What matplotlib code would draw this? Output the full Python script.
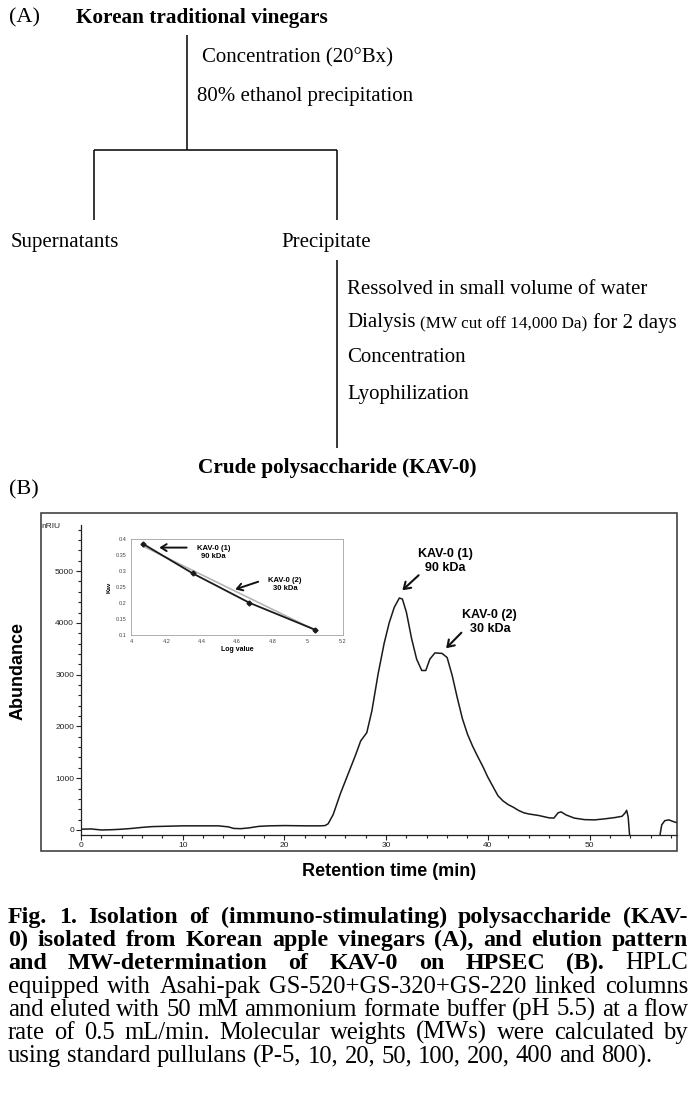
import matplotlib
matplotlib.use('Agg')
import matplotlib.pyplot as plt
from matplotlib.patches import Rectangle
from matplotlib.ticker import MultipleLocator

W, H = 698, 1103

# HPSEC elution profile of KAV-0 (retention time in min, RI signal in nRIU)
rt_main = [0.0, 1.0, 2.0, 3.0, 4.0, 5.0, 6.0, 7.0, 8.0, 10.0, 12.0, 13.5, 14.5, 15.0,
           15.7, 16.5, 17.5, 18.5, 20.0, 22.0, 23.5, 24.0, 24.3, 24.8, 25.5, 26.2,
           27.0, 27.5, 28.1, 28.6, 29.2, 29.8, 30.3, 30.8, 31.3, 31.6, 32.0, 32.5,
           33.0, 33.5, 33.9, 34.3, 34.8, 35.5, 36.0, 36.5, 37.0, 37.5, 38.0, 38.5,
           39.0, 39.5, 40.0, 40.5, 41.0, 41.5, 42.0, 42.5, 43.0, 43.5, 44.0, 45.0,
           46.0, 46.5, 46.9, 47.2, 47.7, 48.5, 49.5, 50.5, 51.5, 52.5, 53.2, 53.5,
           53.65, 53.8, 53.95]
riu_main = [15, 20, 0, 5, 15, 30, 50, 65, 70, 80, 80, 80, 60, 30,
            25, 40, 70, 80, 85, 80, 80, 85, 120, 300, 700, 1050,
            1450, 1720, 1880, 2300, 3000, 3600, 4000, 4300, 4480, 4460, 4200, 3700,
            3300, 3080, 3080, 3300, 3420, 3410, 3330, 2980, 2550, 2150, 1850, 1620,
            1420, 1230, 1020, 840, 660, 560, 490, 440, 380, 335, 310, 280,
            235, 230, 330, 350, 290, 230, 200, 195, 215, 240, 265, 330,
            380, 250, -130]
rt_tail = [56.9, 57.1, 57.4, 57.8, 58.2, 58.6]
riu_tail = [-130, 100, 180, 195, 165, 140]

# calibration (pullulan standards): log MW vs Kav
cal_logmw = [4.07, 4.35, 4.67, 5.04]
cal_kav = [0.385, 0.293, 0.201, 0.117]
fit_logmw = [4.07, 5.05]
fit_kav = [0.378, 0.113]

# peak labels: text centre, arrow start, arrow tip
peak_labels = ['KAV-0 (1)\n90 kDa', 'KAV-0 (2)\n30 kDa']
label_rt = [35.8, 40.2]
label_riu = [5190, 4015]
arrow_rt = [33.2, 37.4]
arrow_riu = [4920, 3810]
peak_rt = [31.6, 35.9]
peak_riu = [4630, 3510]
# same labels on the calibration curve
inset_label_x = [4.466, 4.872]
inset_label_y = [0.359, 0.257]
inset_arrow_x = [4.315, 4.72]
inset_arrow_y = [0.374, 0.267]
inset_tip_x = [4.16, 4.59]
inset_tip_y = [0.374, 0.243]

# flow chart text
title_a = 'Korean traditional vinegars'
steps_1 = ['Concentration (20\u00b0Bx)', '80% ethanol precipitation']
branches = ['Supernatants', 'Precipitate']
steps_2 = ['Ressolved in small volume of water', None, 'Concentration', 'Lyophilization']
product = 'Crude polysaccharide (KAV-0)'

caption = [
    [('Fig. 1. Isolation of (immuno-stimulating) polysaccharide (KAV-', 'bold')],
    [('0) isolated from Korean apple vinegars (A), and elution pattern', 'bold')],
    [('and MW-determination of KAV-0 on HPSEC (B).', 'bold'), ('HPLC', 'normal')],
    [('equipped with Asahi-pak GS-520+GS-320+GS-220 linked columns', 'normal')],
    [('and eluted with 50 mM ammonium formate buffer (pH 5.5) at a flow', 'normal')],
    [('rate of 0.5 mL/min. Molecular weights (MWs) were calculated by', 'normal')],
    [('using standard pullulans (P-5, 10, 20, 50, 100, 200, 400 and 800).', 'normal')],
]

SERIF = 'Liberation Serif'
SANS = 'Liberation Sans'

fig = plt.figure(figsize=(W / 100, H / 100), dpi=100)
fig.patch.set_facecolor('white')

# overlay in pixel coordinates for panel A and the caption
ax0 = fig.add_axes([0, 0, 1, 1])
ax0.set_xlim(0, W)
ax0.set_ylim(H, 0)
ax0.axis('off')
renderer = fig.canvas.get_renderer()

def txt(x, y, s, size=15, weight='normal', ha='left', family=SERIF):
    return ax0.text(x, y, s, fontsize=size, fontweight=weight, ha=ha, va='center',
                    family=family, color='black')

txt(9, 18, '(A)', size=16)
txt(76, 18, title_a, weight='bold', size=15.3)
txt(202, 58, steps_1[0])
txt(197, 97, steps_1[1])
lk = dict(color='black', lw=1.1, solid_capstyle='butt')
ax0.plot([187, 187], [35, 150], **lk)
ax0.plot([93.5, 337], [150, 150], **lk)
ax0.plot([93.5, 93.5], [150, 220], **lk)
ax0.plot([337, 337], [150, 220], **lk)
txt(11, 242, branches[0])
txt(281, 242, branches[1])
ax0.plot([337, 337], [260, 448], **lk)
step_y = [289, 323, 357, 394]
for s, y in zip(steps_2, step_y):
    if s is not None:
        txt(347, y, s)
# dialysis line: parenthetical set in a smaller face
t1 = txt(347, step_y[1], 'Dialysis')
x = 347 + t1.get_window_extent(renderer).width + 5
t2 = txt(x, step_y[1] + 1, '(MW cut off 14,000 Da)', size=12.3)
x += t2.get_window_extent(renderer).width + 5
txt(x, step_y[1], 'for 2 days')
txt(337, 468, product, weight='bold', size=15.3, ha='center')
txt(9, 490, '(B)', size=16)

# caption, justified
cap_left, cap_right = 8, 688
cap_fs = {'bold': 17.3, 'normal': 17.7}
cap_y0, cap_dy = 923, 23.2
a1 = ax0.text(0, 0, 'a a', fontsize=cap_fs['normal'], family=SERIF)
a2 = ax0.text(0, 0, 'aa', fontsize=cap_fs['normal'], family=SERIF)
space_w = a1.get_window_extent(renderer).width - a2.get_window_extent(renderer).width
a1.remove()
a2.remove()
for i, line in enumerate(caption):
    y = cap_y0 + i * cap_dy
    words = [(w, wt) for s, wt in line for w in s.split()]
    objs = [ax0.text(0, y, w, fontsize=cap_fs[wt], fontweight=wt, family=SERIF,
                     va='baseline', ha='left') for w, wt in words]
    widths = [o.get_window_extent(renderer).width for o in objs]
    if i < len(caption) - 1:
        gap = (cap_right - cap_left - sum(widths)) / (len(words) - 1)
    else:
        gap = space_w
    x = cap_left
    for o, w in zip(objs, widths):
        o.set_x(x)
        x += w + gap

# panel B frame
fig.patches.append(Rectangle((41 / W, 1 - 851 / H), (677 - 41) / W, (851 - 513) / H,
                             transform=fig.transFigure, fill=False, lw=1.1, ec='#333333'))

# chromatogram
ax = fig.add_axes([81 / W, 1 - 835 / H, (677 - 81) / W, (835 - 525) / H])
ax.patch.set_alpha(0)
ax.plot(rt_main, riu_main, color='#1a1a1a', lw=1.1)
ax.plot(rt_tail, riu_tail, color='#1a1a1a', lw=1.1)
ax.set_xlim(0, 58.6)
ax.set_ylim(-97, 5890)
ax.spines['top'].set_visible(False)
ax.spines['right'].set_visible(False)
for s in ['left', 'bottom']:
    ax.spines[s].set_linewidth(0.9)
    ax.spines[s].set_color('#222222')
ax.xaxis.set_major_locator(MultipleLocator(10))
ax.xaxis.set_minor_locator(MultipleLocator(2))
ax.yaxis.set_major_locator(MultipleLocator(1000))
ax.yaxis.set_minor_locator(MultipleLocator(200))
ax.tick_params(which='major', length=3.5, width=0.8, labelsize=6, pad=1.5,
               direction='out', colors='#222222')
ax.tick_params(which='minor', length=2.2, width=0.8, direction='out', colors='#222222')
for lab in ax.get_xticklabels() + ax.get_yticklabels():
    lab.set_family(SANS)
ax.text(-0.035, 0.995, 'nRIU', transform=ax.transAxes, ha='right', va='center',
        fontsize=6, family=SANS, color='#222222')
fig.text(18.5 / W, 1 - 671 / H, 'Abundance', rotation=90, ha='center', va='center',
         fontsize=13, fontweight='bold', family=SANS)
fig.text(389 / W, 1 - 872 / H, 'Retention time (min)', ha='center', va='center',
         fontsize=13, fontweight='bold', family=SANS)

arrow_kw = dict(arrowstyle='->, head_length=0.45, head_width=0.3', lw=1.5,
                color='#111111', shrinkA=0, shrinkB=0)
for i in range(2):
    ax.annotate('', xy=(peak_rt[i], peak_riu[i]), xytext=(arrow_rt[i], arrow_riu[i]),
                arrowprops=arrow_kw)
    ax.text(label_rt[i], label_riu[i], peak_labels[i], ha='center', va='center',
            fontsize=9, fontweight='bold', family=SANS)

# calibration inset
axi = fig.add_axes([131 / W, 1 - 635 / H, (343 - 131) / W, (635 - 539.3) / H])
axi.plot(fit_logmw, fit_kav, color='#b5b5b5', lw=1.2)
axi.plot(cal_logmw, cal_kav, color='#1a1a1a', lw=1.3, marker='D', ms=2.5)
axi.set_xlim(4, 5.2)
axi.set_ylim(0.1, 0.4)
xt = [4, 4.2, 4.4, 4.6, 4.8, 5, 5.2]
yt = [0.1, 0.15, 0.2, 0.25, 0.3, 0.35, 0.4]
axi.set_xticks(xt)
axi.set_xticklabels([f'{v:g}' for v in xt])
axi.set_yticks(yt)
axi.set_yticklabels([f'{v:g}' for v in yt])
axi.tick_params(length=0, labelsize=4, pad=3, colors='#444444')
for s in axi.spines.values():
    s.set_color('#a0a0a0')
    s.set_linewidth(0.6)
axi.set_xlabel('Log value', fontsize=5, fontweight='bold', family=SANS, labelpad=1.5)
axi.set_ylabel('Kav', fontsize=4.5, fontweight='bold', family=SANS, labelpad=3)
for lab in axi.get_xticklabels() + axi.get_yticklabels():
    lab.set_family(SANS)
inset_arrow_kw = dict(arrowstyle='->, head_length=0.4, head_width=0.25', lw=1.4,
                      color='#111111', shrinkA=0, shrinkB=0)
for i in range(2):
    axi.annotate('', xy=(inset_tip_x[i], inset_tip_y[i]),
                 xytext=(inset_arrow_x[i], inset_arrow_y[i]), arrowprops=inset_arrow_kw)
    axi.text(inset_label_x[i], inset_label_y[i], peak_labels[i], ha='center', va='center',
             fontsize=5.5, fontweight='bold', family=SANS)

fig.savefig('out.png', dpi=100)
